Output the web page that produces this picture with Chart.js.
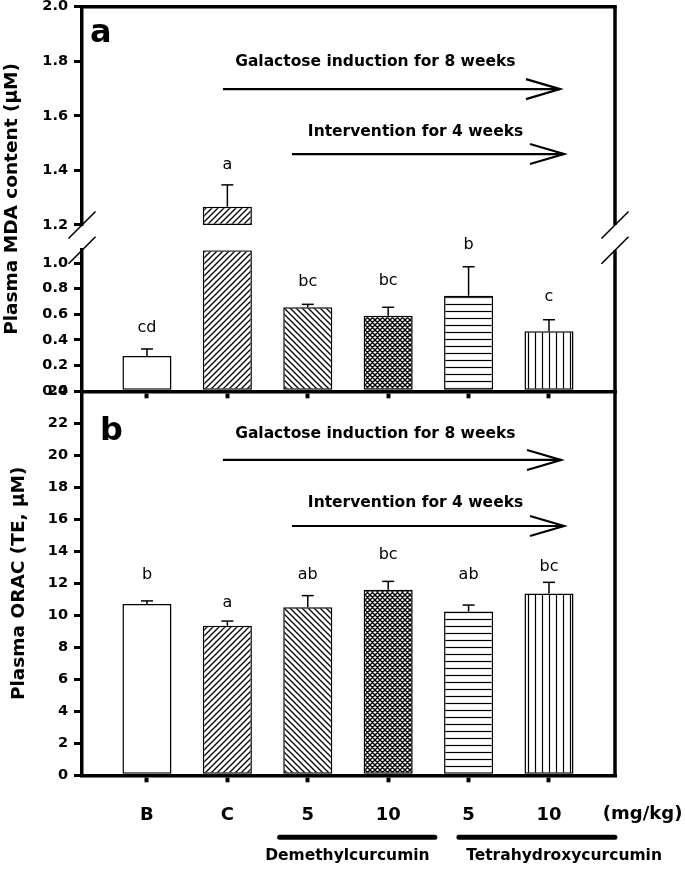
<!DOCTYPE html>
<html><head><meta charset="utf-8">
<script src="https://cdn.jsdelivr.net/npm/chart.js@4.4.1/dist/chart.umd.min.js"></script>
<style>
html,body{margin:0;padding:0;background:#fff;}
#wrap{position:relative;width:685px;height:870px;overflow:hidden;background:#fff;}
canvas{position:absolute;left:0;top:0;}
</style></head>
<body><div id="wrap">
<canvas id="cB" width="685" height="870"></canvas>
<canvas id="cLow" width="685" height="870"></canvas>
<canvas id="cHigh" width="685" height="870"></canvas>
</div>
<script>
// ---------------- DATA ----------------
const categories   = ['B', 'C', 'Demethylcurcumin 5', 'Demethylcurcumin 10', 'Tetrahydroxycurcumin 5', 'Tetrahydroxycurcumin 10'];
const xTickLabels  = ['B', 'C', '5', '10', '5', '10'];
const mdaValues    = [0.275, 1.267, 0.655, 0.589, 0.745, 0.468];
const mdaErrors    = [0.055, 0.080, 0.023, 0.066, 0.226, 0.090];
const mdaLetters   = ['cd', 'a', 'bc', 'bc', 'b', 'c'];
const mdaLetterY   = [0.493, 1.42, 0.854, 0.862, 1.14, 0.737];
const oracValues   = [10.71, 9.35, 10.50, 11.60, 10.23, 11.37];
const oracErrors   = [0.19, 0.29, 0.73, 0.52, 0.41, 0.69];
const oracLetters  = ['b', 'a', 'ab', 'bc', 'ab', 'bc'];
const oracLetterY  = [12.52, 10.79, 12.52, 13.77, 12.52, 13.04];
const groupNames   = ['Demethylcurcumin', 'Tetrahydroxycurcumin'];
const unitLabel    = '(mg/kg)';
const arrowTexts   = ['Galactose induction for 8 weeks', 'Intervention for 4 weeks'];
const yTitleA      = 'Plasma MDA content (\u03bcM)';
const yTitleB      = 'Plasma ORAC (TE, \u03bcM)';

// axis ranges
const X_MIN = -0.808, X_MAX = 5.821;
const LOW_MIN = 0, LOW_MAX = 1.1, LOW_STEP = 0.2;
const HIGH_MIN = 1.2, HIGH_MAX = 2.0, HIGH_STEP = 0.2;
const ORAC_MIN = 0, ORAC_MAX = 24, ORAC_STEP = 2;

// ---------------- LAYOUT / STYLE ----------------
const W = 685, H = 870;
const PLOT_LEFT = 82, PLOT_RIGHT = 615;
const A_TOP = 6.7, A_HIGH_BOTTOM = 225, A_LOW_TOP = 250.2, A_BOTTOM = 391.3, B_BOTTOM = 775.3;
const FONT = "'DejaVu Sans', sans-serif";
const patternKinds = ['none', 'fwd', 'back', 'cross', 'horiz', 'vert'];

Chart.defaults.color = '#000';
Chart.defaults.font.family = FONT;

function makePattern(kind) {
  if (kind === 'none') return '#ffffff';
  let s = 6, lw = 1.3;
  if (kind === 'horiz' || kind === 'vert') { s = 7; lw = 1.2; }
  if (kind === 'cross') { s = 5; lw = 1.4; }
  const c = document.createElement('canvas');
  c.width = s; c.height = s;
  const g = c.getContext('2d');
  g.fillStyle = '#fff'; g.fillRect(0, 0, s, s);
  g.strokeStyle = '#000'; g.lineWidth = lw; g.lineCap = 'square';
  g.beginPath();
  if (kind === 'fwd' || kind === 'cross') {
    g.moveTo(-1, s + 1); g.lineTo(s + 1, -1);
    g.moveTo(-1, 1); g.lineTo(1, -1);
    g.moveTo(s - 1, s + 1); g.lineTo(s + 1, s - 1);
  }
  if (kind === 'back' || kind === 'cross') {
    g.moveTo(-1, -1); g.lineTo(s + 1, s + 1);
    g.moveTo(s - 1, -1); g.lineTo(s + 1, 1);
    g.moveTo(-1, s - 1); g.lineTo(1, s + 1);
  }
  if (kind === 'horiz') { g.moveTo(0, s / 2); g.lineTo(s, s / 2); }
  if (kind === 'vert') { g.moveTo(s / 2, 0); g.lineTo(s / 2, s); }
  g.stroke();
  return g.createPattern(c, 'repeat');
}
const fills = patternKinds.map(makePattern);

function yAxis(min, max, step, fmt) {
  return {
    type: 'linear', position: 'left', min: min, max: max,
    ticks: { stepSize: step, includeBounds: false, color: '#000', padding: 6,
             font: { family: FONT, weight: 'bold', size: 14.5 },
             callback: (v) => fmt(v) },
    grid: { display: true, drawOnChartArea: false, drawTicks: true, tickLength: 8,
            tickWidth: 3, lineWidth: 3, color: '#000' },
    border: { display: true, width: 3.5, color: '#000' },
    afterFit: (s) => { s.width = PLOT_LEFT; s.paddingTop = 0; s.paddingBottom = 0; s.paddingLeft = 0; s.paddingRight = 0; }
  };
}
function xAxis(show, labels, height) {
  return {
    type: 'linear', position: 'bottom', min: X_MIN, max: X_MAX, display: show, offset: false,
    ticks: { stepSize: 1, includeBounds: false, display: !!labels, autoSkip: false, maxRotation: 0,
             color: '#000', padding: 22, font: { family: FONT, weight: 'bold', size: 18 },
             callback: (v) => (labels ? (labels[v] !== undefined ? labels[v] : '') : '') },
    grid: { display: true, offset: false, drawOnChartArea: false, drawTicks: true, tickLength: 7,
            tickWidth: 4, lineWidth: 3, color: '#000' },
    border: { display: true, width: 3.5, color: '#000' },
    afterFit: (s) => { if (show) s.height = height; s.paddingLeft = 0; s.paddingRight = 0; s.paddingTop = 0; s.paddingBottom = 0; }
  };
}
function layoutFor(top, bottom, xHeight) {
  return { autoPadding: false, padding: { left: 0, right: W - PLOT_RIGHT, top: top, bottom: H - bottom - xHeight } };
}
function barDataset(points) {
  return {
    type: 'bar', data: points,
    backgroundColor: fills, borderColor: '#000', borderWidth: 1.5, borderSkipped: false,
    barPercentage: 0.61, categoryPercentage: 1.0
  };
}
function commonOptions() {
  return {
    responsive: false, animation: false, devicePixelRatio: 1,
    plugins: { legend: { display: false }, tooltip: { enabled: false } },
    events: []
  };
}

// -------------- drawing helpers --------------
function line(ctx, x0, y0, x1, y1, w) {
  ctx.save(); ctx.strokeStyle = '#000'; ctx.lineWidth = w; ctx.beginPath();
  ctx.moveTo(x0, y0); ctx.lineTo(x1, y1); ctx.stroke(); ctx.restore();
}
function drawErrors(chart, values, errors, test) {
  const ctx = chart.ctx, xs = chart.scales.x, ys = chart.scales.y;
  values.forEach((v, i) => {
    if (!test(v)) return;
    const x = xs.getPixelForValue(i);
    const y0 = ys.getPixelForValue(v), y1 = ys.getPixelForValue(v + errors[i]);
    line(ctx, x, y0, x, y1, 1.5);
    line(ctx, x - 6, y1, x + 6, y1, 1.5);
  });
}
function drawLetters(chart, letters, ys_, test) {
  const ctx = chart.ctx, xs = chart.scales.x, ys = chart.scales.y;
  ctx.save(); ctx.fillStyle = '#000'; ctx.font = '16px ' + FONT;
  ctx.textAlign = 'center'; ctx.textBaseline = 'middle';
  letters.forEach((t, i) => {
    if (!test(i)) return;
    ctx.fillText(t, xs.getPixelForValue(i), ys.getPixelForValue(ys_[i]));
  });
  ctx.restore();
}
function drawArrow(chart, x0v, x1v, yv) {
  const ctx = chart.ctx, xs = chart.scales.x, ys = chart.scales.y;
  const x0 = xs.getPixelForValue(x0v), x1 = xs.getPixelForValue(x1v), y = ys.getPixelForValue(yv);
  ctx.save(); ctx.strokeStyle = '#000'; ctx.lineWidth = 2.2; ctx.lineJoin = 'miter';
  ctx.beginPath(); ctx.moveTo(x0, y); ctx.lineTo(x1, y); ctx.stroke();
  ctx.beginPath(); ctx.moveTo(x1 - 34, y - 10); ctx.lineTo(x1, y); ctx.lineTo(x1 - 34, y + 10); ctx.stroke();
  ctx.restore();
}
function drawText(chart, text, xv, yv, font, align) {
  const ctx = chart.ctx, xs = chart.scales.x, ys = chart.scales.y;
  ctx.save(); ctx.fillStyle = '#000'; ctx.font = font;
  ctx.textAlign = align || 'center'; ctx.textBaseline = 'middle';
  ctx.fillText(text, xs.getPixelForValue(xv), ys.getPixelForValue(yv));
  ctx.restore();
}
function drawYTitle(ctx, text, xBase, yCenter) {
  ctx.save(); ctx.fillStyle = '#000'; ctx.font = 'bold 18.5px ' + FONT;
  ctx.translate(xBase, yCenter); ctx.rotate(-Math.PI / 2);
  ctx.textAlign = 'center'; ctx.textBaseline = 'alphabetic';
  ctx.fillText(text, 0, 0); ctx.restore();
}
function drawSlash(ctx, cx, cy) { line(ctx, cx - 13.5, cy + 13.5, cx + 13.5, cy - 13.5, 1.6); }
function panelLetter(ctx, t, x, y) {
  ctx.save(); ctx.fillStyle = '#000'; ctx.font = 'bold 32px ' + FONT;
  ctx.textAlign = 'left'; ctx.textBaseline = 'alphabetic'; ctx.fillText(t, x, y); ctx.restore();
}

// -------------- panel a : upper segment --------------
const highPoints = mdaValues.map((v, i) => ({ x: i, y: v > LOW_MAX ? [HIGH_MIN, v] : null }));
const chartHigh = new Chart(document.getElementById('cHigh'), {
  type: 'bar',
  data: { datasets: [barDataset(highPoints)] },
  options: Object.assign(commonOptions(), {
    layout: layoutFor(A_TOP, A_HIGH_BOTTOM, 0),
    scales: { x: xAxis(false, null, 0), y: yAxis(HIGH_MIN, HIGH_MAX, HIGH_STEP, (v) => v.toFixed(1)) }
  }),
  plugins: [{
    id: 'highDecor',
    afterDatasetsDraw(chart) {
      const ctx = chart.ctx, a = chart.chartArea;
      line(ctx, a.left - 1.75, a.top, a.right + 1.75, a.top, 3.5);
      line(ctx, a.right, a.top, a.right, a.bottom, 3.5);
      drawErrors(chart, mdaValues, mdaErrors, (v) => v > LOW_MAX);
      drawLetters(chart, mdaLetters, mdaLetterY, (i) => mdaValues[i] > LOW_MAX);
      panelLetter(ctx, 'a', a.left + 8, a.top + 35);
      drawText(chart, arrowTexts[0], 2.84, 1.797, 'bold 15.5px ' + FONT);
      drawArrow(chart, 0.945, 5.137, 1.698);
      drawText(chart, arrowTexts[1], 3.34, 1.541, 'bold 15.5px ' + FONT);
      drawArrow(chart, 1.803, 5.187, 1.46);
      drawSlash(ctx, a.left, a.bottom);
      drawSlash(ctx, a.right, a.bottom);
    }
  }]
});

// -------------- panel a : lower segment --------------
const lowPoints = mdaValues.map((v, i) => ({ x: i, y: Math.min(v, LOW_MAX) }));
const chartLow = new Chart(document.getElementById('cLow'), {
  type: 'bar',
  data: { datasets: [barDataset(lowPoints)] },
  options: Object.assign(commonOptions(), {
    layout: layoutFor(A_LOW_TOP, A_BOTTOM, 10),
    scales: { x: xAxis(true, null, 10), y: yAxis(LOW_MIN, LOW_MAX, LOW_STEP, (v) => v.toFixed(1)) }
  }),
  plugins: [{
    id: 'lowDecor',
    afterDatasetsDraw(chart) {
      const ctx = chart.ctx, a = chart.chartArea;
      line(ctx, a.right, a.top, a.right, a.bottom + 1.75, 3.5);
      drawErrors(chart, mdaValues, mdaErrors, (v) => v <= LOW_MAX);
      drawLetters(chart, mdaLetters, mdaLetterY, (i) => mdaValues[i] <= LOW_MAX);
      drawSlash(ctx, a.left, a.top);
      drawSlash(ctx, a.right, a.top);
      drawYTitle(ctx, yTitleA, a.left - 65, (A_TOP + a.bottom) / 2);
    }
  }]
});

// -------------- panel b --------------
const oracPoints = oracValues.map((v, i) => ({ x: i, y: v }));
const chartB = new Chart(document.getElementById('cB'), {
  type: 'bar',
  data: { datasets: [barDataset(oracPoints)] },
  options: Object.assign(commonOptions(), {
    layout: layoutFor(A_BOTTOM, B_BOTTOM, 60),
    scales: { x: xAxis(true, xTickLabels, 60), y: yAxis(ORAC_MIN, ORAC_MAX, ORAC_STEP, (v) => String(v)) }
  }),
  plugins: [{
    id: 'bDecor',
    afterDatasetsDraw(chart) {
      const ctx = chart.ctx, a = chart.chartArea, xs = chart.scales.x;
      line(ctx, a.right, a.top, a.right, a.bottom + 1.75, 3.5);
      drawErrors(chart, oracValues, oracErrors, () => true);
      drawLetters(chart, oracLetters, oracLetterY, () => true);
      panelLetter(ctx, 'b', a.left + 18, a.top + 49);
      drawText(chart, arrowTexts[0], 2.84, 21.33, 'bold 15.5px ' + FONT);
      drawArrow(chart, 0.945, 5.15, 19.71);
      drawText(chart, arrowTexts[1], 3.34, 17.02, 'bold 15.5px ' + FONT);
      drawArrow(chart, 1.803, 5.187, 15.58);
      drawYTitle(ctx, yTitleB, a.left - 58.5, (a.top + a.bottom) / 2);
      // unit label
      ctx.save(); ctx.fillStyle = '#000'; ctx.font = 'bold 18px ' + FONT;
      ctx.textAlign = 'left'; ctx.textBaseline = 'middle';
      ctx.fillText(unitLabel, xs.getPixelForValue(5.67), a.bottom + 39);
      ctx.restore();
      // compound group bars + names
      const spans = [[1.65, 3.58], [3.88, 5.82]];
      const nameX = [1.47, 3.97];
      spans.forEach((sp, k) => {
        ctx.save(); ctx.strokeStyle = '#000'; ctx.lineWidth = 5; ctx.lineCap = 'round';
        ctx.beginPath(); ctx.moveTo(xs.getPixelForValue(sp[0]), a.bottom + 62);
        ctx.lineTo(xs.getPixelForValue(sp[1]), a.bottom + 62); ctx.stroke(); ctx.restore();
        ctx.save(); ctx.fillStyle = '#000'; ctx.font = 'bold 15.5px ' + FONT;
        ctx.textAlign = 'left'; ctx.textBaseline = 'middle';
        ctx.fillText(groupNames[k], xs.getPixelForValue(nameX[k]), a.bottom + 81);
        ctx.restore();
      });
    }
  }]
});
</script>
</body></html>
